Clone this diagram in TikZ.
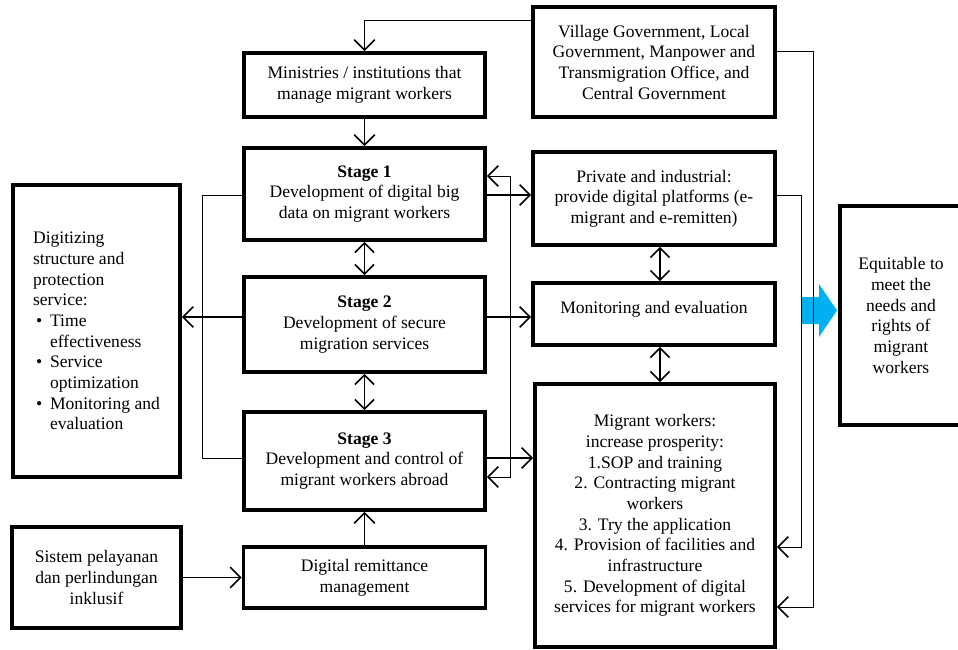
\documentclass[tikz,border=0pt]{standalone}
\usepackage{fontspec}
\setmainfont{Liberation Serif}
\usetikzlibrary{arrows.meta}
\definecolor{arrowblue}{RGB}{0,176,240}

\begin{document}
\begin{tikzpicture}[x=0.25mm, y=-0.25mm,
        box/.style={draw, line width=2.6pt, align=center, inner sep=2pt,
            font=\fontsize{12.5}{14.7}\selectfont},
        arr/.style={line width=1.1pt, -{Straight Barb[length=2.6mm, width=5.2mm]}},
        dbl/.style={line width=1.1pt, {Straight Barb[length=2.4mm, width=4.8mm]}-{Straight Barb[length=2.4mm, width=4.8mm]}},
        ln/.style={line width=0.6pt},
        tarr/.style={line width=0.6pt, -{Straight Barb[length=2.6mm, width=5.2mm, line width=1.1pt]}},
        tdbl/.style={line width=0.6pt, {Straight Barb[length=2.6mm, width=5.2mm, line width=1.1pt]}-{Straight Barb[length=2.6mm, width=5.2mm, line width=1.1pt]}}]
        \useasboundingbox (0,0) rectangle (958,649);

        % boxes
        \node[box, minimum width=60.25mm, minimum height=16mm] (mini) at (364.5,85) {Ministries / institutions that\\manage migrant workers};
        \node[box, minimum width=60.5mm, minimum height=27.5mm] (vill) at (654,62) {Village Government, Local\\Government, Manpower and\\Transmigration Office, and\\Central Government};
        \node[box, minimum width=60.25mm, minimum height=23mm] (st1) at (364.5,194) {\textbf{Stage 1}\\Development of digital big\\data on migrant workers};
        \node[box, minimum width=60.5mm, minimum height=23.25mm] (priv) at (654,198.5) {Private and industrial:\\provide digital platforms (e-\\migrant and e-remitten)};
        \node[box, minimum width=60.25mm, minimum height=23.75mm] (st2) at (364.5,324.5) {\textbf{Stage 2}\\Development of secure\\migration services};
        \node[box, minimum width=60.5mm, minimum height=15.5mm] (mon) at (654,314) {\raisebox{9pt}{Monitoring and evaluation}};
        \node[box, minimum width=60mm, minimum height=65.75mm] (mig) at (655,515.5) {Migrant workers:\\increase prosperity:\\1.SOP and training\\2. Contracting migrant\\workers\\3. Try the application\\4. Provision of facilities and\\infrastructure\\5. Development of digital\\services for migrant workers};
        \node[box, minimum width=60.25mm, minimum height=24.5mm] (st3) at (364.5,461) {\textbf{Stage 3}\\Development and control of\\migrant workers abroad};
        \node[box, minimum width=60.5mm, minimum height=15.25mm] (rem) at (364.5,577.5) {Digital remittance\\management};
        \node[box, minimum width=42.25mm, minimum height=25.25mm] (sis) at (96.5,577.5) {Sistem pelayanan\\dan perlindungan\\inklusif};
        \node[box, align=left, minimum width=41.75mm, minimum height=73mm] (dig) at (96.5,331) {Digitizing\\structure and\\protection\\service:\\
            \hspace*{0.75mm}\makebox[3.5mm][l]{\textbullet}Time\\\hspace*{4.25mm}effectiveness\\
            \hspace*{0.75mm}\makebox[3.5mm][l]{\textbullet}Service\\\hspace*{4.25mm}optimization\\
            \hspace*{0.75mm}\makebox[3.5mm][l]{\textbullet}Monitoring and\\\hspace*{4.25mm}evaluation};
        \node[box, minimum width=30.5mm, minimum height=54.75mm] (eq) at (901,315.5) {Equitable to\\meet the\\needs and\\rights of\\migrant\\workers};

        % blue arrow
        \fill[arrowblue] (802,297) -- (819,297) -- (819,284) -- (837,310.5) -- (819,337) -- (819,324) -- (802,324) -- cycle;

        % connectors
        \draw[tarr] (vill.north west) ++(0,15) -| (mini.north);
        \draw[tarr] (vill.north east) ++(0,46) -| (813,607) -- (mig.east |- 0,607);
        \draw[tarr] (priv.east) ++(0,-3.5) -| (801,547) -- (mig.east |- 0,547);
        \draw[arr] (mini.south) -- (st1.north);
        \draw[dbl] (st1.south) -- (st2.north);
        \draw[dbl] (st2.south) -- (st3.north);
        \draw[arr] (st1.east |- 0,195) -- (priv.west |- 0,195);
        \draw[tdbl] (st1.east |- 0,176) -| (510,477) -- (st3.east |- 0,477);
        \draw[arr] (st2.east |- 0,317) -- (mon.west |- 0,317);
        \draw[arr] (st3.east |- 0,458) -- (mig.west |- 0,458);
        \draw[ln] (st1.west |- 0,195) -| (202,458) -- (st3.west |- 0,458);
        \draw[arr] (st2.west |- 0,317) -- (dig.east |- 0,317);
        \draw[dbl] (priv.south -| 660,0) -- (mon.north -| 660,0);
        \draw[dbl] (mon.south -| 660,0) -- (mig.north -| 660,0);
        \draw[arr] (rem.north) -- (st3.south);
        \draw[arr] (sis.east) -- (rem.west);
\end{tikzpicture}
\end{document}
